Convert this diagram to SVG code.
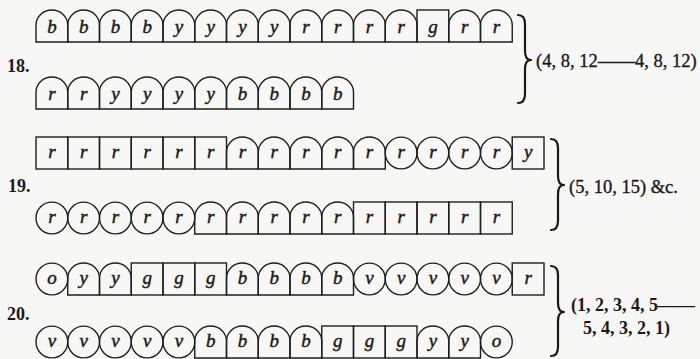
<svg xmlns="http://www.w3.org/2000/svg" xmlns:xlink="http://www.w3.org/1999/xlink" width="700" height="359" viewBox="0 0 700 359">
<style>
.bg{fill:#f7f7f5}
.sh{fill:none;stroke:#1e1e1e;stroke-width:1.4}
.c{font-family:"Liberation Serif","Times New Roman",serif;font-style:italic;font-size:19px;fill:#1a1a1a;stroke:#1a1a1a;stroke-width:0.45;text-anchor:middle}
.lab{font-family:"Liberation Serif","Times New Roman",serif;font-weight:bold;font-size:18px;fill:#1a1a1a}
.note{font-family:"Liberation Serif","Times New Roman",serif;font-size:18.5px;fill:#1a1a1a;stroke:#1a1a1a;stroke-width:0.35}
.noteb{font-family:"Liberation Serif","Times New Roman",serif;font-weight:bold;font-size:18px;fill:#1a1a1a}
.br{fill:none;stroke:#1a1a1a;stroke-width:2.2;stroke-linecap:round;stroke-linejoin:round}
</style>
<defs>
<path id="A" class="sh" d="M0,32 V15 A15.875,15 0 0 1 31.75,15 V32 Z"/>
<rect id="S" class="sh" x="0" y="0" width="31.75" height="32"/>
<circle id="C" class="sh" cx="15.875" cy="16" r="15.875"/>
</defs>
<rect class="bg" x="0" y="0" width="700" height="359"/>

<g id="labels">
<text class="lab" x="7" y="72">18.</text>
<text class="lab" x="8" y="192">19.</text>
<text class="lab" x="7" y="320">20.</text>
</g>

<g id="row18-top">
<g id="n18t1" transform="translate(36,10)"><use href="#A"/><text class="c" x="15.875" y="23">b</text></g>
<g id="n18t2" transform="translate(67.75,10)"><use href="#A"/><text class="c" x="15.875" y="23">b</text></g>
<g id="n18t3" transform="translate(99.5,10)"><use href="#A"/><text class="c" x="15.875" y="23">b</text></g>
<g id="n18t4" transform="translate(131.25,10)"><use href="#A"/><text class="c" x="15.875" y="23">b</text></g>
<g id="n18t5" transform="translate(163,10)"><use href="#A"/><text class="c" x="15.875" y="23">y</text></g>
<g id="n18t6" transform="translate(194.75,10)"><use href="#A"/><text class="c" x="15.875" y="23">y</text></g>
<g id="n18t7" transform="translate(226.5,10)"><use href="#A"/><text class="c" x="15.875" y="23">y</text></g>
<g id="n18t8" transform="translate(258.25,10)"><use href="#A"/><text class="c" x="15.875" y="23">y</text></g>
<g id="n18t9" transform="translate(290,10)"><use href="#A"/><text class="c" x="15.875" y="23">r</text></g>
<g id="n18t10" transform="translate(321.75,10)"><use href="#A"/><text class="c" x="15.875" y="23">r</text></g>
<g id="n18t11" transform="translate(353.5,10)"><use href="#A"/><text class="c" x="15.875" y="23">r</text></g>
<g id="n18t12" transform="translate(385.25,10)"><use href="#A"/><text class="c" x="15.875" y="23">r</text></g>
<g id="n18t13" transform="translate(417,10)"><use href="#S"/><text class="c" x="15.875" y="23">g</text></g>
<g id="n18t14" transform="translate(448.75,10)"><use href="#A"/><text class="c" x="15.875" y="23">r</text></g>
<g id="n18t15" transform="translate(480.5,10)"><use href="#A"/><text class="c" x="15.875" y="23">r</text></g>
</g>

<g id="row18-bottom">
<g id="n18b1" transform="translate(36,77)"><use href="#A"/><text class="c" x="15.875" y="23">r</text></g>
<g id="n18b2" transform="translate(67.75,77)"><use href="#A"/><text class="c" x="15.875" y="23">r</text></g>
<g id="n18b3" transform="translate(99.5,77)"><use href="#A"/><text class="c" x="15.875" y="23">y</text></g>
<g id="n18b4" transform="translate(131.25,77)"><use href="#A"/><text class="c" x="15.875" y="23">y</text></g>
<g id="n18b5" transform="translate(163,77)"><use href="#A"/><text class="c" x="15.875" y="23">y</text></g>
<g id="n18b6" transform="translate(194.75,77)"><use href="#A"/><text class="c" x="15.875" y="23">y</text></g>
<g id="n18b7" transform="translate(226.5,77)"><use href="#A"/><text class="c" x="15.875" y="23">b</text></g>
<g id="n18b8" transform="translate(258.25,77)"><use href="#A"/><text class="c" x="15.875" y="23">b</text></g>
<g id="n18b9" transform="translate(290,77)"><use href="#A"/><text class="c" x="15.875" y="23">b</text></g>
<g id="n18b10" transform="translate(321.75,77)"><use href="#A"/><text class="c" x="15.875" y="23">b</text></g>
</g>

<g id="row19-top">
<g id="n19t1" transform="translate(36,137)"><use href="#S"/><text class="c" x="15.875" y="21">r</text></g>
<g id="n19t2" transform="translate(67.75,137)"><use href="#S"/><text class="c" x="15.875" y="21">r</text></g>
<g id="n19t3" transform="translate(99.5,137)"><use href="#S"/><text class="c" x="15.875" y="21">r</text></g>
<g id="n19t4" transform="translate(131.25,137)"><use href="#S"/><text class="c" x="15.875" y="21">r</text></g>
<g id="n19t5" transform="translate(163,137)"><use href="#S"/><text class="c" x="15.875" y="21">r</text></g>
<g id="n19t6" transform="translate(194.75,137)"><use href="#S"/><text class="c" x="15.875" y="21">r</text></g>
<g id="n19t7" transform="translate(226.5,137)"><use href="#A"/><text class="c" x="15.875" y="21">r</text></g>
<g id="n19t8" transform="translate(258.25,137)"><use href="#A"/><text class="c" x="15.875" y="21">r</text></g>
<g id="n19t9" transform="translate(290,137)"><use href="#A"/><text class="c" x="15.875" y="21">r</text></g>
<g id="n19t10" transform="translate(321.75,137)"><use href="#A"/><text class="c" x="15.875" y="21">r</text></g>
<g id="n19t11" transform="translate(353.5,137)"><use href="#A"/><text class="c" x="15.875" y="21">r</text></g>
<g id="n19t12" transform="translate(385.25,137)"><use href="#C"/><text class="c" x="15.875" y="21">r</text></g>
<g id="n19t13" transform="translate(417,137)"><use href="#C"/><text class="c" x="15.875" y="21">r</text></g>
<g id="n19t14" transform="translate(448.75,137)"><use href="#C"/><text class="c" x="15.875" y="21">r</text></g>
<g id="n19t15" transform="translate(480.5,137)"><use href="#C"/><text class="c" x="15.875" y="21">r</text></g>
<g id="n19t16" transform="translate(512.25,137)"><use href="#S"/><text class="c" x="15.875" y="21">y</text></g>
</g>

<g id="row19-bottom">
<g id="n19b1" transform="translate(36,202)"><use href="#C"/><text class="c" x="15.875" y="21">r</text></g>
<g id="n19b2" transform="translate(67.75,202)"><use href="#C"/><text class="c" x="15.875" y="21">r</text></g>
<g id="n19b3" transform="translate(99.5,202)"><use href="#C"/><text class="c" x="15.875" y="21">r</text></g>
<g id="n19b4" transform="translate(131.25,202)"><use href="#C"/><text class="c" x="15.875" y="21">r</text></g>
<g id="n19b5" transform="translate(163,202)"><use href="#C"/><text class="c" x="15.875" y="21">r</text></g>
<g id="n19b6" transform="translate(194.75,202)"><use href="#A"/><text class="c" x="15.875" y="21">r</text></g>
<g id="n19b7" transform="translate(226.5,202)"><use href="#A"/><text class="c" x="15.875" y="21">r</text></g>
<g id="n19b8" transform="translate(258.25,202)"><use href="#A"/><text class="c" x="15.875" y="21">r</text></g>
<g id="n19b9" transform="translate(290,202)"><use href="#A"/><text class="c" x="15.875" y="21">r</text></g>
<g id="n19b10" transform="translate(321.75,202)"><use href="#A"/><text class="c" x="15.875" y="21">r</text></g>
<g id="n19b11" transform="translate(353.5,202)"><use href="#S"/><text class="c" x="15.875" y="21">r</text></g>
<g id="n19b12" transform="translate(385.25,202)"><use href="#S"/><text class="c" x="15.875" y="21">r</text></g>
<g id="n19b13" transform="translate(417,202)"><use href="#S"/><text class="c" x="15.875" y="21">r</text></g>
<g id="n19b14" transform="translate(448.75,202)"><use href="#S"/><text class="c" x="15.875" y="21">r</text></g>
<g id="n19b15" transform="translate(480.5,202)"><use href="#S"/><text class="c" x="15.875" y="21">r</text></g>
</g>

<g id="row20-top">
<g id="n20t1" transform="translate(36,263)"><use href="#C"/><text class="c" x="15.875" y="21">o</text></g>
<g id="n20t2" transform="translate(67.75,263)"><use href="#A"/><text class="c" x="15.875" y="21">y</text></g>
<g id="n20t3" transform="translate(99.5,263)"><use href="#A"/><text class="c" x="15.875" y="21">y</text></g>
<g id="n20t4" transform="translate(131.25,263)"><use href="#S"/><text class="c" x="15.875" y="21">g</text></g>
<g id="n20t5" transform="translate(163,263)"><use href="#S"/><text class="c" x="15.875" y="21">g</text></g>
<g id="n20t6" transform="translate(194.75,263)"><use href="#S"/><text class="c" x="15.875" y="21">g</text></g>
<g id="n20t7" transform="translate(226.5,263)"><use href="#A"/><text class="c" x="15.875" y="21">b</text></g>
<g id="n20t8" transform="translate(258.25,263)"><use href="#A"/><text class="c" x="15.875" y="21">b</text></g>
<g id="n20t9" transform="translate(290,263)"><use href="#A"/><text class="c" x="15.875" y="21">b</text></g>
<g id="n20t10" transform="translate(321.75,263)"><use href="#A"/><text class="c" x="15.875" y="21">b</text></g>
<g id="n20t11" transform="translate(353.5,263)"><use href="#C"/><text class="c" x="15.875" y="21">v</text></g>
<g id="n20t12" transform="translate(385.25,263)"><use href="#C"/><text class="c" x="15.875" y="21">v</text></g>
<g id="n20t13" transform="translate(417,263)"><use href="#C"/><text class="c" x="15.875" y="21">v</text></g>
<g id="n20t14" transform="translate(448.75,263)"><use href="#C"/><text class="c" x="15.875" y="21">v</text></g>
<g id="n20t15" transform="translate(480.5,263)"><use href="#C"/><text class="c" x="15.875" y="21">v</text></g>
<g id="n20t16" transform="translate(512.25,263)"><use href="#S"/><text class="c" x="15.875" y="21">r</text></g>
</g>

<g id="row20-bottom">
<g id="n20b1" transform="translate(36,326)"><use href="#C"/><text class="c" x="15.875" y="21">v</text></g>
<g id="n20b2" transform="translate(67.75,326)"><use href="#C"/><text class="c" x="15.875" y="21">v</text></g>
<g id="n20b3" transform="translate(99.5,326)"><use href="#C"/><text class="c" x="15.875" y="21">v</text></g>
<g id="n20b4" transform="translate(131.25,326)"><use href="#C"/><text class="c" x="15.875" y="21">v</text></g>
<g id="n20b5" transform="translate(163,326)"><use href="#C"/><text class="c" x="15.875" y="21">v</text></g>
<g id="n20b6" transform="translate(194.75,326)"><use href="#A"/><text class="c" x="15.875" y="21">b</text></g>
<g id="n20b7" transform="translate(226.5,326)"><use href="#A"/><text class="c" x="15.875" y="21">b</text></g>
<g id="n20b8" transform="translate(258.25,326)"><use href="#A"/><text class="c" x="15.875" y="21">b</text></g>
<g id="n20b9" transform="translate(290,326)"><use href="#A"/><text class="c" x="15.875" y="21">b</text></g>
<g id="n20b10" transform="translate(321.75,326)"><use href="#S"/><text class="c" x="15.875" y="21">g</text></g>
<g id="n20b11" transform="translate(353.5,326)"><use href="#S"/><text class="c" x="15.875" y="21">g</text></g>
<g id="n20b12" transform="translate(385.25,326)"><use href="#S"/><text class="c" x="15.875" y="21">g</text></g>
<g id="n20b13" transform="translate(417,326)"><use href="#A"/><text class="c" x="15.875" y="21">y</text></g>
<g id="n20b14" transform="translate(448.75,326)"><use href="#A"/><text class="c" x="15.875" y="21">y</text></g>
<g id="n20b15" transform="translate(480.5,326)"><use href="#C"/><text class="c" x="15.875" y="21">o</text></g>
</g>

<g id="connectors">
<path class="br" d="M518,15 Q525,15 525,24 V51 Q525,60 531,60 Q525,60 525,69 V94 Q525,103 518,103"/>
<path class="br" d="M551,139 Q558,139 558,148 V176 Q558,185 564,185 Q558,185 558,194 V221 Q558,230 551,230"/>
<path class="br" d="M551,266 Q558,266 558,275 V303 Q558,312 564,312 Q558,312 558,321 V347 Q558,356 551,356"/>
</g>

<g id="notes">
<text class="note" y="67"><tspan x="536">(4, 8, 12</tspan><tspan x="598" textLength="37" lengthAdjust="spacingAndGlyphs">——</tspan><tspan x="635">4, 8, 12)</tspan></text>
<text class="note" x="569" y="193">(5, 10, 15) &amp;c.</text>
<text class="noteb" y="311"><tspan x="571">(1, 2, 3, 4, 5</tspan><tspan x="657" textLength="38" lengthAdjust="spacingAndGlyphs">——</tspan></text>
<text class="noteb" x="583" y="334">5, 4, 3, 2, 1)</text>
</g>
</svg>
